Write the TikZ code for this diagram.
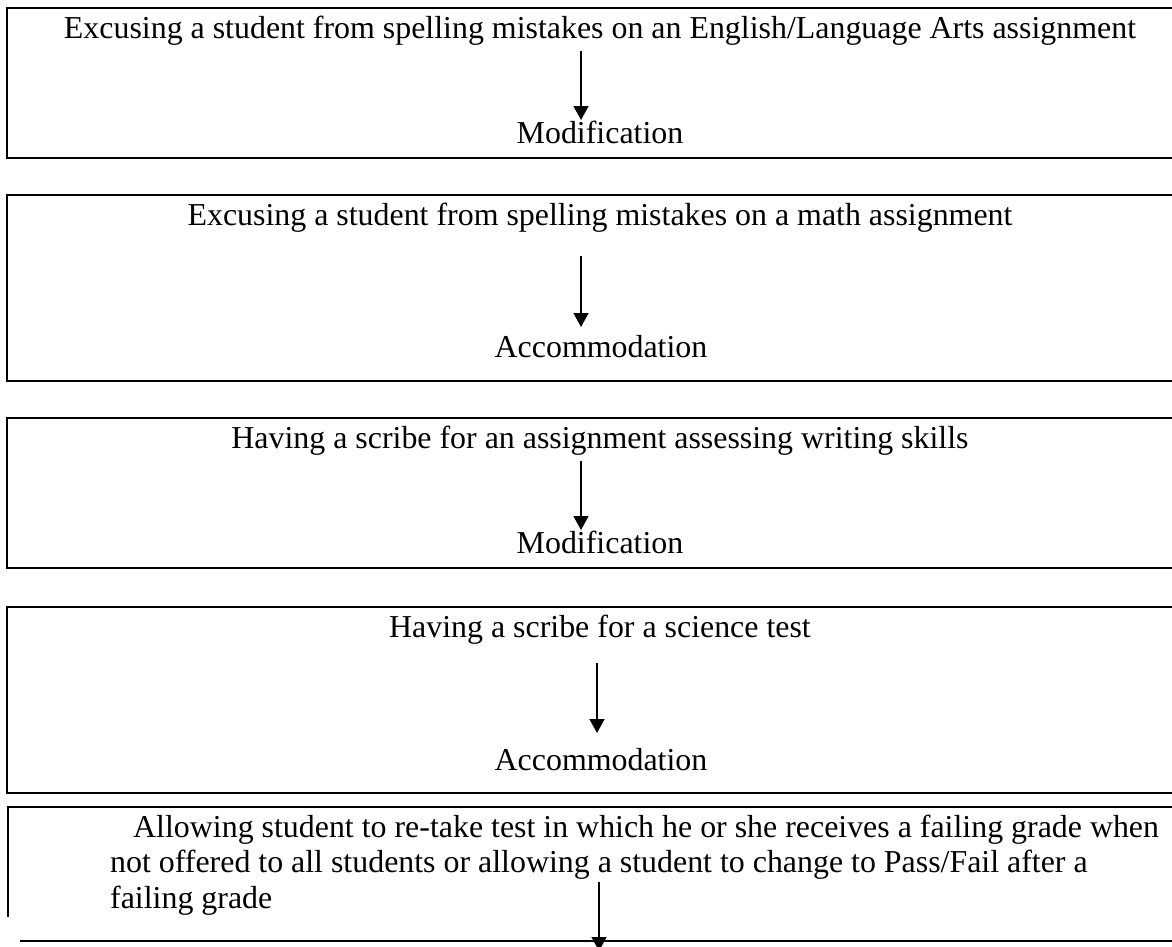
\documentclass[tikz,border=0pt]{standalone}
\usepackage{fontspec}
\setmainfont{Liberation Serif}
\usetikzlibrary{arrows.meta}
\begin{document}
\begin{tikzpicture}[x=1pt,y=-1pt,
  boxline/.style={line width=1.7pt},
  txt/.style={inner sep=0pt,anchor=base,font=\fontsize{31.9}{36}\selectfont},
  ltxt/.style={txt,anchor=base west},
  flow/.style={line width=1.5pt,-{Triangle[length=14pt,width=15pt]}}]
\useasboundingbox (0,0) rectangle (1172,946);
\clip (0,0) rectangle (1172,946);
% box 1
\draw[boxline] (7,8) rectangle (1200,158);
\node[txt] (t1) at (600,38) {Excusing a student from spelling mistakes on an English/Language Arts assignment};
\node[txt] (r1) at (600,143) {Modification};
\coordinate (a1s) at (581,51);
\coordinate (a1e) at (581,120);
\draw[flow] (a1s) -- (a1e);
% box 2
\draw[boxline] (7,195) rectangle (1200,381);
\node[txt] (t2) at (600,225) {Excusing a student from spelling mistakes on a math assignment};
\node[txt] (r2) at (601,357) {Accommodation};
\coordinate (a2s) at (581,256);
\coordinate (a2e) at (581,327);
\draw[flow] (a2s) -- (a2e);
% box 3
\draw[boxline] (7,418) rectangle (1200,568);
\node[txt] (t3) at (600,448) {Having a scribe for an assignment assessing writing skills};
\node[txt] (r3) at (600,553) {Modification};
\coordinate (a3s) at (581,461);
\coordinate (a3e) at (581,530);
\draw[flow] (a3s) -- (a3e);
% box 4
\draw[boxline] (7,607) rectangle (1200,793);
\node[txt] (t4) at (600,637) {Having a scribe for a science test};
\node[txt] (r4) at (601,770) {Accommodation};
\coordinate (a4s) at (597,663);
\coordinate (a4e) at (597,733);
\draw[flow] (a4s) -- (a4e);
% box 5 (open)
\draw[boxline] (8,917) -- (8,807) -- (1200,807);
\draw[boxline] (20,941) -- (1200,941);
\node[ltxt] (t5a) at (133,837) {Allowing student to re-take test in which he or she receives a failing grade when};
\node[ltxt] (t5b) at (110,872) {not offered to all students or allowing a student to change to Pass/Fail after a};
\node[ltxt] (t5c) at (110,908) {failing grade};
\coordinate (a5s) at (599,882);
\coordinate (a5e) at (599,951);
\draw[flow] (a5s) -- (a5e);
\end{tikzpicture}
\end{document}
